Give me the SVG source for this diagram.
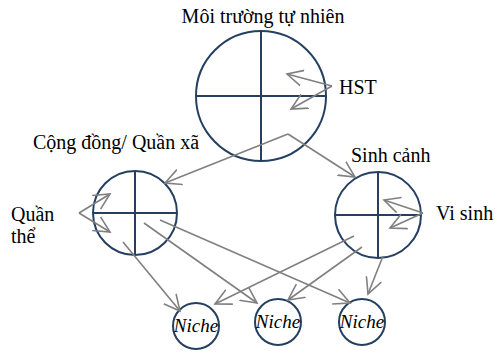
<svg xmlns="http://www.w3.org/2000/svg" width="495" height="352" viewBox="0 0 495 352">
  <style>
    .node { fill: #ffffff; stroke: #243f60; stroke-width: 2; }
    .cross { stroke: #243f60; stroke-width: 2; fill: none; }
    .link { stroke: #808080; stroke-width: 1.6; fill: none; marker-end: url(#arrow); }
    text { fill: #000000; font-family: 'Liberation Serif', 'Times New Roman', serif; font-size: 20px; }
    .niche { font-style: italic; text-anchor: middle; font-size: 19px; }
  </style>
  <defs>
    <marker id="arrow" viewBox="0 0 18 18" refX="16" refY="9" markerWidth="18" markerHeight="18" markerUnits="userSpaceOnUse" orient="auto">
      <path d="M0,1 L16,9 L0,17" fill="none" stroke="#808080" stroke-width="1.6"/>
    </marker>
  </defs>

  <!-- environment -->
  <g id="moi-truong">
    <circle class="node" cx="261" cy="96" r="65"/>
    <path class="cross" d="M196,96 H326 M261,31 V161"/>
    <text x="263" y="23" text-anchor="middle">Môi trường tự nhiên</text>
  </g>

  <g id="hst">
    <text x="339" y="94">HST</text>
  </g>

  <!-- community -->
  <g id="cong-dong">
    <circle class="node" cx="135" cy="213" r="42"/>
    <path class="cross" d="M93,213 H177 M135,171 V255"/>
    <text x="33" y="149">Cộng đồng/ Quần xã</text>
  </g>

  <g id="quan-the">
    <text x="11" y="221">Quần</text>
    <text x="11" y="243">thể</text>
  </g>

  <!-- habitat -->
  <g id="sinh-canh">
    <circle class="node" cx="378" cy="215" r="43"/>
    <path class="cross" d="M335,215 H421 M378,172 V258"/>
    <text x="351" y="162">Sinh cảnh</text>
  </g>

  <g id="vi-sinh">
    <text x="436" y="220">Vi sinh</text>
  </g>

  <!-- niches -->
  <g id="niche-1">
    <circle class="node" cx="196" cy="326" r="23"/>
    <text class="niche" x="196" y="332">Niche</text>
  </g>
  <g id="niche-2">
    <circle class="node" cx="278" cy="322" r="23"/>
    <text class="niche" x="278" y="328">Niche</text>
  </g>
  <g id="niche-3">
    <circle class="node" cx="362" cy="322" r="23"/>
    <text class="niche" x="362" y="328">Niche</text>
  </g>

  <!-- connectors -->
  <g id="connectors">
    <line class="link" x1="332" y1="86" x2="287" y2="74"/>
    <line class="link" x1="332" y1="86" x2="291" y2="109"/>
    <line class="link" x1="288" y1="134" x2="165" y2="183"/>
    <line class="link" x1="288" y1="134" x2="355" y2="177"/>
    <line class="link" x1="79" y1="213" x2="110" y2="194"/>
    <line class="link" x1="79" y1="213" x2="110" y2="232"/>
    <line class="link" x1="423" y1="213" x2="384" y2="200"/>
    <line class="link" x1="423" y1="213" x2="390" y2="228"/>
    <line class="link" x1="160" y1="220" x2="350" y2="303"/>
    <line class="link" x1="144" y1="223" x2="257" y2="303"/>
    <line class="link" x1="123" y1="242" x2="180" y2="311"/>
    <line class="link" x1="354" y1="236" x2="215" y2="304"/>
    <line class="link" x1="362" y1="247" x2="288" y2="300"/>
    <line class="link" x1="383" y1="256" x2="368" y2="294"/>
  </g>
</svg>
